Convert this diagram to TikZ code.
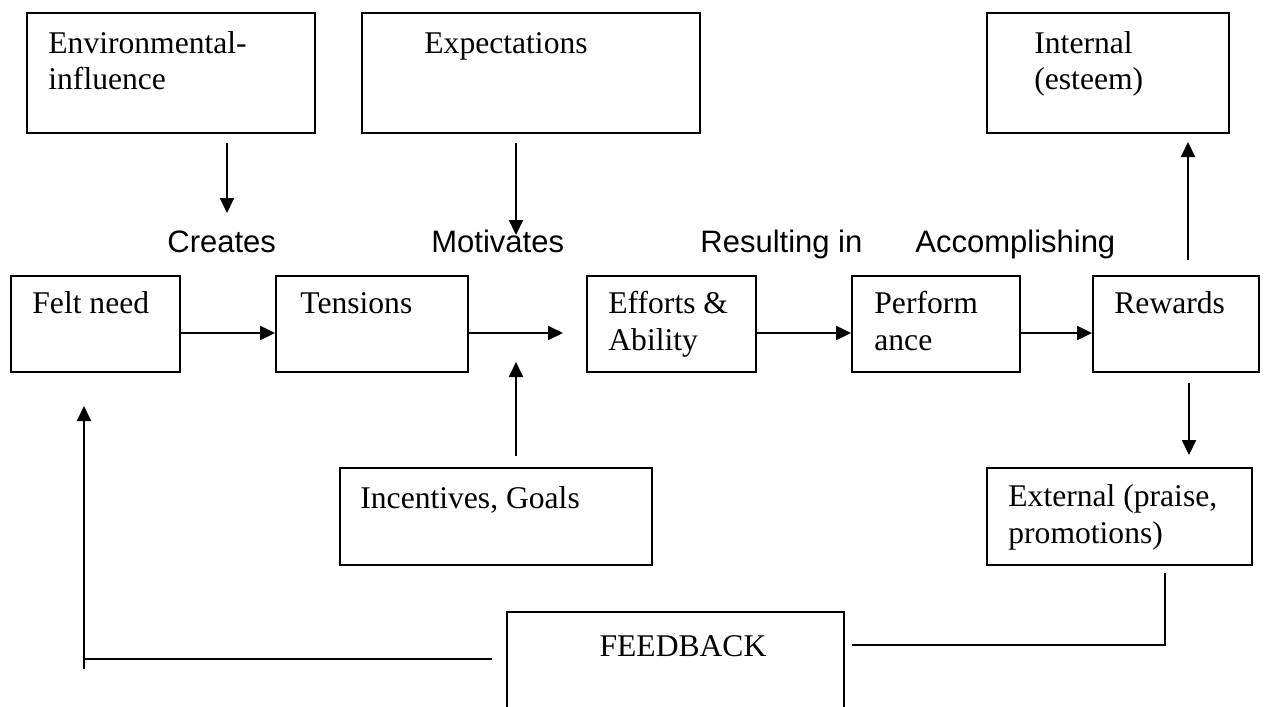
\documentclass[tikz,border=0pt]{standalone}
\usepackage{fontspec}
\setmainfont{Liberation Serif}
\newfontfamily\arialf{Liberation Sans}
\usetikzlibrary{arrows.meta,fit}
\begin{document}
\begin{tikzpicture}[x=0.5pt,y=-0.5pt,
  box/.style={draw,line width=0.9pt,inner sep=0pt,rectangle},
  txt/.style={inner sep=0pt,anchor=base west,font=\fontsize{15.8}{18}\selectfont},
  lbl/.style={inner sep=0pt,anchor=base west,font=\arialf\fontsize{15.5}{18}\selectfont},
  arr/.style={line width=1pt,-{Triangle[length=7.5pt,width=7pt]}},
  ln/.style={line width=0.9pt}]
\useasboundingbox (0,0) rectangle (1266,707);
% top row
\node[box,fit={(27,13) (315,133)}] (env) {};
\node[txt] (envt1) at (48,53) {Environmental-};
\node[txt] (envt2) at (48,89) {influence};
\node[box,fit={(362,13) (700,133)}] (exp) {};
\node[txt] (expt) at (424,53) {Expectations};
\node[box,fit={(987,13) (1229,133)}] (int) {};
\node[txt] (intt1) at (1034,53) {Internal};
\node[txt] (intt2) at (1034,89) {(esteem)};
% labels
\node[lbl] (creates) at (167,252) {Creates};
\node[lbl] (motiv) at (431,252) {Motivates};
\node[lbl] (result) at (700,252) {Resulting in};
\node[lbl] (accomp) at (915,252) {Accomplishing};
% middle row
\node[box,fit={(11,276) (180,372)}] (felt) {};
\node[txt] (feltt) at (32,313) {Felt need};
\node[box,fit={(276,276) (468,372)}] (tens) {};
\node[txt] (tenst) at (300,313) {Tensions};
\node[box,fit={(587,276) (756,372)}] (eff) {};
\node[txt] (efft1) at (608,313) {Efforts \&};
\node[txt] (efft2) at (608,350) {Ability};
\node[box,fit={(852,276) (1020,372)}] (perf) {};
\node[txt] (perft1) at (874,313) {Perform};
\node[txt] (perft2) at (874,350) {ance};
\node[box,fit={(1093,276) (1259,372)}] (rew) {};
\node[txt] (rewt) at (1114,313) {Rewards};
% bottom row
\node[box,fit={(340,468) (652,565)}] (inc) {};
\node[txt] (inct) at (360,508) {Incentives, Goals};
\node[box,fit={(987,468) (1252,565)}] (ext) {};
\node[txt] (extt1) at (1008,506) {External (praise,};
\node[txt] (extt2) at (1008,543) {promotions)};
\node[box,fit={(507,612) (844,760)}] (fb) {};
\node[txt,anchor=base] (fbt) at (683,656) {FEEDBACK};
% coordinates
\coordinate (rowy) at (0,333);
\coordinate (envA) at (227,143);
\coordinate (envB) at (227,213);
\coordinate (expA) at (516,143);
\coordinate (expB) at (516,235);
\coordinate (intA) at (1188,260);
\coordinate (intB) at (1188,142);
\coordinate (tensB) at (563,333);
\coordinate (incA) at (516,456);
\coordinate (incB) at (516,362);
\coordinate (rewA) at (1189,383);
\coordinate (rewB) at (1189,455);
\coordinate (extA) at (1165,573);
\coordinate (fbR) at (852,645);
\coordinate (fbL) at (492,659);
\coordinate (fbC) at (84,659);
\coordinate (fbD) at (84,669);
\coordinate (fbE) at (84,406);
% connectors
\draw[arr] (envA) -- (envB);
\draw[arr] (expA) -- (expB);
\draw[arr] (intA) -- (intB);
\draw[arr] (felt.east |- rowy) -- (tens.west |- rowy);
\draw[arr] (tens.east |- rowy) -- (tensB);
\draw[arr] (eff.east |- rowy) -- (perf.west |- rowy);
\draw[arr] (perf.east |- rowy) -- (rew.west |- rowy);
\draw[arr] (incA) -- (incB);
\draw[arr] (rewA) -- (rewB);
\draw[ln] (extA) |- (fbR);
\draw[ln] (fbL) -- (fbC);
\draw[arr] (fbD) -- (fbE);
\end{tikzpicture}
\end{document}
